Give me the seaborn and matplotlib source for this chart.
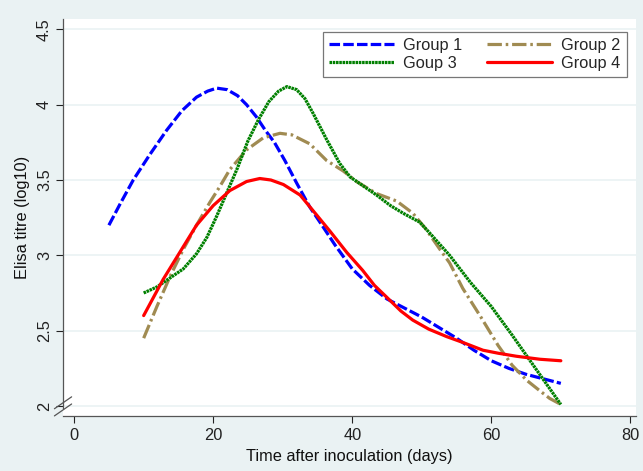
import matplotlib
matplotlib.use("Agg")
import matplotlib.pyplot as plt
import numpy as np
import pandas as pd
import seaborn as sns

# Elisa titre (log10)
days_g1 = [5.0, 6.6, 8.5, 10.9, 13.3, 15.5, 17.6, 19.2, 20.5, 22.0, 23.5, 24.8, 26.2, 27.5,
           28.8, 30.3, 32.0, 33.9, 35.5, 37.5, 40.0, 42.5, 45.0, 47.5, 50.0, 52.5, 55.0,
           57.5, 60.0, 62.5, 65.0, 67.5, 70.0]
group1 = [3.20, 3.34, 3.50, 3.67, 3.83, 3.96, 4.05, 4.09, 4.11, 4.10, 4.06, 4.00, 3.92, 3.83,
          3.75, 3.63, 3.48, 3.32, 3.21, 3.07, 2.91, 2.80, 2.71, 2.65, 2.59, 2.52, 2.45,
          2.37, 2.30, 2.25, 2.21, 2.18, 2.15]

days_g2 = [10.0, 11.9, 13.8, 15.7, 17.6, 19.5, 21.0, 22.4, 24.8, 27.2, 29.6, 31.3, 33.9,
           36.3, 38.7, 40.6, 43.5, 46.4, 48.7, 50.5, 52.6, 54.0, 55.9, 58.5, 61.0, 63.0,
           65.1, 67.0, 68.4, 70.0]
group2 = [2.45, 2.66, 2.86, 3.04, 3.20, 3.35, 3.46, 3.57, 3.70, 3.78, 3.81, 3.80, 3.74,
          3.63, 3.56, 3.49, 3.41, 3.36, 3.28, 3.18, 3.04, 2.95, 2.78, 2.59, 2.40, 2.27,
          2.17, 2.10, 2.05, 2.01]

days_g3 = [10.0, 11.9, 13.8, 15.7, 17.6, 19.1, 20.5, 21.9, 23.4, 25.0, 26.5, 28.0, 29.4,
           30.6, 32.0, 33.2, 34.4, 36.3, 38.2, 39.7, 41.6, 43.5, 45.5, 47.3, 49.7, 51.1,
           54.0, 57.0, 60.0, 63.0, 66.5, 70.0]
group3 = [2.75, 2.79, 2.85, 2.91, 3.01, 3.12, 3.26, 3.41, 3.57, 3.76, 3.90, 4.02, 4.09,
          4.12, 4.10, 4.04, 3.94, 3.77, 3.61, 3.52, 3.46, 3.40, 3.33, 3.28, 3.22, 3.15,
          3.00, 2.82, 2.66, 2.47, 2.24, 2.01]

days_g4 = [10.0, 12.8, 15.2, 17.6, 20.0, 22.4, 24.8, 26.7, 28.3, 30.1, 32.5, 34.3, 36.8,
           39.2, 41.5, 43.2, 45.0, 47.0, 48.7, 51.0, 53.6, 56.0, 58.8, 61.0, 63.6, 67.0, 70.0]
group4 = [2.60, 2.84, 3.02, 3.20, 3.33, 3.43, 3.49, 3.51, 3.50, 3.47, 3.40, 3.30, 3.16,
          3.02, 2.90, 2.80, 2.72, 2.63, 2.57, 2.51, 2.46, 2.42, 2.37, 2.35, 2.33, 2.31, 2.30]

labels = ['Group 1', 'Group 2', 'Goup 3', 'Group 4']
colors = ['#0000FF', '#A08B52', '#008000', '#FF0000']
styles = [(0, (3.3, 1.0)), (0, (4.5, 1.2, 0.8, 1.2)), (0, (0.8, 0.22)), '-']

x_ticks = [0, 20, 40, 60, 80]
y_ticks = [2, 2.5, 3, 3.5, 4, 4.5]
y_tick_labels = ['2', '2.5', '3', '3.5', '4', '4.5']

sns.set_style("white")
plt.rcParams['font.family'] = ['Liberation Sans', 'DejaVu Sans']

bg = '#EAF2F3'
fs = 11.8
fig = plt.figure(figsize=(6.43, 4.71), dpi=100, facecolor=bg)
ax = fig.add_axes([0.098, 0.117, 0.891, 0.843])
ax.set_facecolor('white')

series = [(days_g1, group1), (days_g2, group2), (days_g3, group3), (days_g4, group4)]
handles = []
for (xs, ys), lab, col, ls in zip(series, labels, colors, styles):
    df = pd.DataFrame({'Day': xs, 'Titre': ys})
    sns.lineplot(data=df, x='Day', y='Titre', color=col, linewidth=2.3, ax=ax, label=lab)
    line = ax.lines[-1]
    line.set_linestyle(ls)
    line.set_solid_joinstyle('round')
    line.set_dash_joinstyle('round')
    handles.append(line)

ax.set_xlim(-1.6, 80.8)
ax.set_ylim(1.934, 4.57)
ax.set_xticks(x_ticks)
ax.set_yticks(y_ticks)
ax.set_yticklabels(y_tick_labels, rotation=90, va='center')
ax.tick_params(axis='both', labelsize=fs, colors='#222222', length=5, width=0.8,
               direction='out', left=True, bottom=True)
ax.tick_params(axis='y', pad=3)
ax.tick_params(axis='x', pad=4)

ax.yaxis.grid(True, color=bg, linewidth=1.2)
ax.xaxis.grid(False)
ax.set_axisbelow(True)

for side in ['top', 'right']:
    ax.spines[side].set_visible(False)
for side in ['left', 'bottom']:
    ax.spines[side].set_color('#555555')
    ax.spines[side].set_linewidth(0.9)
ax.spines['left'].set_bounds(1.985, 4.57)

# axis break marks
for dy in (0.0, 0.018):
    ax.plot([-0.015, 0.015], [0.0 + dy, 0.03 + dy], transform=ax.transAxes,
            color='#555555', linewidth=0.9, clip_on=False)

ax.set_xlabel('Time after inoculation (days)', fontsize=fs, color='#111111', labelpad=4)
ax.set_ylabel('Elisa titre (log10)', fontsize=fs, color='#111111', labelpad=5)

order = [0, 2, 1, 3]
leg = ax.legend([handles[i] for i in order], [labels[i] for i in order], ncol=2,
                loc='upper right', bbox_to_anchor=(0.998, 0.987), fontsize=fs,
                frameon=True, fancybox=False, edgecolor='#777777', framealpha=1,
                handlelength=4.0, handletextpad=0.55, columnspacing=1.5,
                borderpad=0.35, labelspacing=0.2)
leg.get_frame().set_linewidth(0.9)

fig.savefig('out.png', dpi=100, facecolor=bg)
